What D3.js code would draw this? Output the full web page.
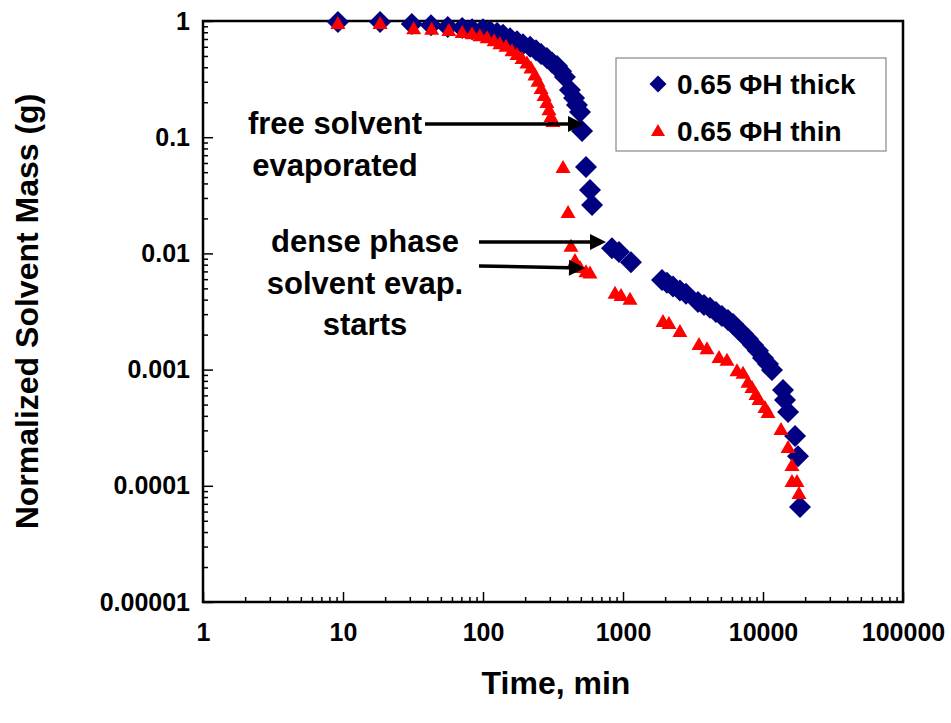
<!DOCTYPE html>
<html><head><meta charset="utf-8">
<script src="https://cdn.jsdelivr.net/npm/d3@7"></script>
<style>
html,body{margin:0;padding:0;background:#fff;}
svg text{font-family:"Liberation Sans",Arial,sans-serif;font-weight:bold;fill:#000;}
</style></head>
<body>
<svg id="chart" width="951" height="723"></svg>
<script>
// ---- data ----
const thickTime = [9.2, 18.4, 31, 42.5, 56, 71, 83.5, 100, 112, 126, 139, 156, 175, 193, 217, 239, 260, 286, 311, 338, 361, 385, 418, 447, 469, 493, 510, 544, 581, 601, 834, 936, 1140, 1900, 2060, 2275, 2550, 2820, 3435, 3790, 4180, 4610, 5090, 5620, 6110, 6630, 7200, 7810, 8490, 9210, 10000, 10860, 11590, 13900, 14360, 15100, 16940, 17780, 18370];
const thickMass = [0.98, 0.98, 0.94, 0.92, 0.89, 0.87, 0.85, 0.85, 0.82, 0.79, 0.76, 0.71, 0.67, 0.63, 0.60, 0.56, 0.52, 0.48, 0.44, 0.41, 0.37, 0.33, 0.255, 0.217, 0.189, 0.165, 0.113, 0.0554, 0.0351, 0.0261, 0.0111, 0.0103, 0.0084, 0.0059, 0.0056, 0.0052, 0.0048, 0.0045, 0.00382, 0.0036, 0.0034, 0.00313, 0.00289, 0.00267, 0.00247, 0.00223, 0.00202, 0.00183, 0.00163, 0.00145, 0.00126, 0.00112, 0.00099, 0.000667, 0.000547, 0.000432, 0.000268, 0.00018, 0.0000657];
const thinTime = [9.2, 18.4, 32, 43, 57, 71, 83.5, 95, 107, 120, 132, 146, 161, 175, 190, 206, 220, 235, 247, 260, 273, 286, 296, 306, 316, 373, 405, 425, 454, 493, 544, 581, 877, 968, 1122, 1930, 2130, 2550, 3490, 3980, 4850, 5530, 6520, 7200, 7810, 8340, 8910, 9360, 10330, 10860, 13440, 15100, 16110, 16110, 17490, 18070];
const thinMass = [0.94, 0.94, 0.85, 0.84, 0.82, 0.79, 0.77, 0.74, 0.71, 0.67, 0.63, 0.60, 0.55, 0.51, 0.47, 0.43, 0.39, 0.34, 0.30, 0.26, 0.226, 0.197, 0.171, 0.149, 0.135, 0.0543, 0.0223, 0.0114, 0.0086, 0.0075, 0.0069, 0.0067, 0.0045, 0.0043, 0.0040, 0.00257, 0.00247, 0.00211, 0.00163, 0.0015, 0.00126, 0.00119, 0.00097, 0.00092, 0.00077, 0.000695, 0.000604, 0.000547, 0.000467, 0.000423, 0.000302, 0.000211, 0.000148, 0.000108, 0.000108, 0.0000849];
const seriesNames = ["0.65 \u03A6H thick", "0.65 \u03A6H thin"];
const xTickLabels = ["1", "10", "100", "1000", "10000", "100000"];
const yTickLabels = ["1", "0.1", "0.01", "0.001", "0.0001", "0.00001"];
const xTickValues = [1, 10, 100, 1000, 10000, 100000];
const yTickValues = [1, 0.1, 0.01, 0.001, 0.0001, 0.00001];
const annotations = [
  {lines: ["free solvent", "evaporated"], x: 335, y: [134, 176]},
  {lines: ["dense phase", "solvent evap.", "starts"], x: 365, y: [252, 294, 335]}
];
const arrows = [
  {x1: 425, y1: 124, x2: 584, y2: 124},
  {x1: 479, y1: 242, x2: 606, y2: 242},
  {x1: 479, y1: 266, x2: 585, y2: 268}
];

// ---- layout ----
const L = 203, R = 903, T = 21, B = 602;
const svg = d3.select("#chart");
const x = d3.scaleLog().domain([1, 100000]).range([L, R]);
const y = d3.scaleLog().domain([0.00001, 1]).range([B, T]);

// minor ticks
const minorX = [], minorY = [];
for (let d = 0; d < 5; d++) for (let k = 2; k <= 9; k++) minorX.push(k * Math.pow(10, d));
for (let d = -5; d < 0; d++) for (let k = 2; k <= 9; k++) minorY.push(k * Math.pow(10, d));

const gxMinor = svg.append("g").attr("transform", `translate(0,${B})`)
  .call(d3.axisBottom(x).tickValues(minorX).tickSize(-5).tickFormat(""));
const gyMinor = svg.append("g").attr("transform", `translate(${L},0)`)
  .call(d3.axisLeft(y).tickValues(minorY).tickSize(-5).tickFormat(""));
const gx = svg.append("g").attr("transform", `translate(0,${B})`)
  .call(d3.axisBottom(x).tickValues(xTickValues).tickSize(-10).tickPadding(21)
    .tickFormat((d, i) => xTickLabels[i]));
const gy = svg.append("g").attr("transform", `translate(${L},0)`)
  .call(d3.axisLeft(y).tickValues(yTickValues).tickSize(-10).tickPadding(13)
    .tickFormat((d, i) => yTickLabels[i]));
[gxMinor, gyMinor, gx, gy].forEach(g => {
  g.select(".domain").remove();
  g.selectAll("line").attr("stroke", "#000").attr("stroke-width", 1.5);
});
[gx, gy].forEach(g => g.selectAll("text")
  .style("font-family", "'Liberation Sans',Arial,sans-serif")
  .style("font-weight", "bold").style("font-size", "25px").attr("fill", "#000"));

// frame
svg.append("rect").attr("x", L).attr("y", T).attr("width", R - L).attr("height", B - T)
  .attr("fill", "none").attr("stroke", "#000").attr("stroke-width", 2.5);

// axis titles
svg.append("text").attr("x", (L + R) / 2 + 3).attr("y", 694).attr("text-anchor", "middle")
  .style("font-size", "32px").text("Time, min");
svg.append("text").attr("transform", `translate(38,${(T + B) / 2}) rotate(-90)`)
  .attr("text-anchor", "middle").style("font-size", "32px").text("Normalized Solvent Mass (g)");

// markers
const diamond = "M0,-11L11,0L0,11L-11,0Z";
const tri = "M0,-8L7.5,5L-7.5,5Z";
const thick = thickTime.map((t, i) => ({t, m: thickMass[i]}));
const thin = thinTime.map((t, i) => ({t, m: thinMass[i]}));
svg.append("g").selectAll("path").data(thick).join("path")
  .attr("d", diamond).attr("fill", "#000080")
  .attr("transform", d => `translate(${x(d.t)},${y(d.m)})`);
svg.append("g").selectAll("path").data(thin).join("path")
  .attr("d", tri).attr("fill", "#ff0000")
  .attr("transform", d => `translate(${x(d.t)},${y(d.m)})`);

// annotations
annotations.forEach(a => a.lines.forEach((ln, i) => {
  svg.append("text").attr("x", a.x).attr("y", a.y[i]).attr("text-anchor", "middle")
    .style("font-size", "31px").text(ln);
}));
arrows.forEach(a => {
  const ang = Math.atan2(a.y2 - a.y1, a.x2 - a.x1);
  const hl = 16, hw = 8;
  const bx = a.x2 - hl * Math.cos(ang), by = a.y2 - hl * Math.sin(ang);
  svg.append("line").attr("x1", a.x1).attr("y1", a.y1).attr("x2", bx).attr("y2", by)
    .attr("stroke", "#000").attr("stroke-width", 3.5);
  const px = -Math.sin(ang) * hw, py = Math.cos(ang) * hw;
  svg.append("path").attr("d", `M${a.x2},${a.y2}L${bx + px},${by + py}L${bx - px},${by - py}Z`).attr("fill", "#000");
});

// legend
const lg = svg.append("g");
lg.append("rect").attr("x", 616).attr("y", 58).attr("width", 270).attr("height", 93)
  .attr("fill", "#fff").attr("stroke", "#888").attr("stroke-width", 1.2);
lg.append("path").attr("d", "M0,-8.5L8.5,0L0,8.5L-8.5,0Z").attr("fill", "#000080")
  .attr("transform", "translate(658,84)");
lg.append("path").attr("d", "M0,-7L7,5L-7,5Z").attr("fill", "#ff0000")
  .attr("transform", "translate(658,131)");
lg.append("text").attr("x", 677).attr("y", 94).style("font-size", "28px").text(seriesNames[0]);
lg.append("text").attr("x", 677).attr("y", 141).style("font-size", "28px").text(seriesNames[1]);
</script>
</body></html>
